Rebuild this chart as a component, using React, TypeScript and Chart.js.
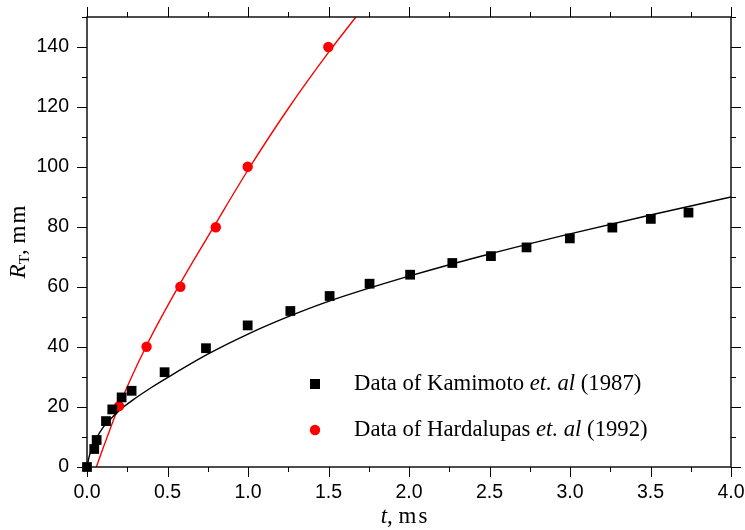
import React, { useEffect, useRef } from "react";
import { Chart, registerables } from "chart.js";

Chart.register(...registerables);

// Kamimoto et al. (1987) measured tip penetration
const kamimotoT = [0, 0.045, 0.06, 0.118, 0.157, 0.215, 0.277, 0.482, 0.739, 0.998, 1.263, 1.507, 1.755, 2.007, 2.269, 2.509, 2.73, 2.999, 3.263, 3.502, 3.736];
const kamimotoR = [0, 6, 9, 15.3, 19.2, 23.2, 25.4, 31.6, 39.6, 47.2, 52, 57, 61.1, 64.1, 68, 70.3, 73.2, 76.2, 79.8, 82.7, 84.8];

// Hardalupas et al. (1992) measured tip penetration
const hardalupasT = [0.199, 0.37, 0.58, 0.8, 0.998, 1.499];
const hardalupasR = [20.3, 40.1, 60.1, 79.9, 100.1, 140];

// Model curves
const blackCurveT = [0, 0.015, 0.03, 0.06, 0.1, 0.15, 0.2, 0.3, 0.4, 0.5, 0.75, 1.0, 1.25, 1.5, 2.0, 2.5, 3.0, 3.5, 4.0];
const blackCurveR = [0, 3.8, 6.2, 9.7, 13.2, 16.2, 18.8, 22.9, 26.5, 29.8, 37.6, 44.3, 50.1, 55.2, 63.6, 71.0, 77.7, 84.0, 90.0];

const redCurveT = [0.058, 0.1, 0.2, 0.37, 0.58, 0.8, 1.0, 1.25, 1.5, 1.67];
const redCurveR = [0, 6.3, 20.5, 40.5, 61.3, 81.2, 99, 119.5, 138.2, 150];

// Axes
const xTickValues = [0, 0.5, 1.0, 1.5, 2.0, 2.5, 3.0, 3.5, 4.0];
const xTickLabels = ["0.0", "0.5", "1.0", "1.5", "2.0", "2.5", "3.0", "3.5", "4.0"];
const yTickValues = [0, 20, 40, 60, 80, 100, 120, 140];
const yTickLabels = ["0", "20", "40", "60", "80", "100", "120", "140"];
const xMinorTickValues = [0.25, 0.75, 1.25, 1.75, 2.25, 2.75, 3.25, 3.75];
const yMinorTickValues = [10, 30, 50, 70, 90, 110, 130, 150];
const xRange = [0, 4];
const yRange = [0, 150];

const legendLabels = [
  ["Data of Kamimoto ", "et. al", " (1987)"],
  ["Data of Hardalupas ", "et. al", " (1992)"],
];

const SERIF = "'Liberation Serif', 'Times New Roman', serif";
const SANS = "'Liberation Sans', Arial, sans-serif";

type Run = { text: string; font: string; dy?: number; spacing?: number };

function runWidth(ctx: CanvasRenderingContext2D, r: Run) {
  ctx.font = r.font;
  (ctx as any).letterSpacing = (r.spacing || 0) + "px";
  return ctx.measureText(r.text).width;
}

function drawRuns(ctx: CanvasRenderingContext2D, runs: Run[], x: number, y: number, align: "left" | "center") {
  let total = 0;
  for (const r of runs) total += runWidth(ctx, r);
  let cx = align === "center" ? x - total / 2 : x;
  ctx.textAlign = "left";
  ctx.textBaseline = "alphabetic";
  for (const r of runs) {
    const w = runWidth(ctx, r);
    ctx.fillText(r.text, cx, y + (r.dy || 0));
    cx += w;
  }
  (ctx as any).letterSpacing = "0px";
}

const framePlugin = {
  id: "frame",
  afterDraw(chart: any) {
    const { ctx, chartArea: a, scales } = chart;
    const xs = scales.x;
    const ys = scales.y;
    ctx.save();
    ctx.strokeStyle = "#000";
    ctx.fillStyle = "#000";
    ctx.lineWidth = 1;
    const seg = (x1: number, y1: number, x2: number, y2: number) => {
      ctx.beginPath();
      ctx.moveTo(x1, y1);
      ctx.lineTo(x2, y2);
      ctx.stroke();
    };
    const xTicks = (vals: number[], len: number) => {
      for (const v of vals) {
        const px = Math.round(xs.getPixelForValue(v)) + 0.5;
        seg(px, a.bottom, px, a.bottom + len);
        seg(px, a.top, px, a.top - len);
      }
    };
    const yTicks = (vals: number[], len: number) => {
      for (const v of vals) {
        const py = Math.round(ys.getPixelForValue(v)) + 0.5;
        seg(a.left, py, a.left - len, py);
        seg(a.right, py, a.right + len, py);
      }
    };
    xTicks(xTickValues, 10);
    xTicks(xMinorTickValues, 5);
    yTicks(yTickValues, 10);
    yTicks(yMinorTickValues, 5);

    ctx.lineWidth = 1.4;
    ctx.strokeRect(a.left, a.top, a.right - a.left, a.bottom - a.top);

    // tick labels
    ctx.font = `19.5px ${SANS}`;
    ctx.textBaseline = "alphabetic";
    ctx.textAlign = "center";
    xTickValues.forEach((v, i) => {
      ctx.fillText(xTickLabels[i], xs.getPixelForValue(v), a.bottom + 31);
    });
    ctx.textAlign = "right";
    yTickValues.forEach((v, i) => {
      ctx.fillText(yTickLabels[i], a.left - 18, ys.getPixelForValue(v) + 4.5);
    });

    // x axis title
    const cxTitle = (a.left + a.right) / 2 - 4;
    drawRuns(
      ctx,
      [
        { text: "t", font: `italic 23px ${SERIF}` },
        { text: ", ", font: `23px ${SERIF}` },
        { text: "ms", font: `23px ${SERIF}`, spacing: 2 },
      ],
      cxTitle,
      a.bottom + 55.5,
      "center"
    );

    // y axis title (rotated)
    ctx.save();
    ctx.translate(a.left - 62, (a.top + a.bottom) / 2 - 1);
    ctx.rotate(-Math.PI / 2);
    drawRuns(
      ctx,
      [
        { text: "R", font: `italic 23px ${SERIF}` },
        { text: "T", font: `15.5px ${SERIF}`, dy: 4 },
        { text: ", ", font: `23px ${SERIF}` },
        { text: "mm", font: `23px ${SERIF}`, spacing: 2 },
      ],
      0,
      0,
      "center"
    );
    ctx.restore();

    // legend
    const lx = a.left + 228;
    const tx = a.left + 267;
    const rows = [a.top + 367, a.top + 413];
    ctx.fillStyle = "#000";
    ctx.fillRect(lx - 5, rows[0] - 5, 10, 10);
    ctx.fillStyle = "#ff0000";
    ctx.beginPath();
    ctx.arc(lx, rows[1], 5.2, 0, Math.PI * 2);
    ctx.fill();
    ctx.fillStyle = "#000";
    legendLabels.forEach((parts, i) => {
      drawRuns(
        ctx,
        [
          { text: parts[0], font: `22.7px ${SERIF}` },
          { text: parts[1], font: `italic 22.7px ${SERIF}` },
          { text: parts[2], font: `22.7px ${SERIF}` },
        ],
        tx,
        rows[i] + 5.5,
        "left"
      );
    });
    ctx.restore();
  },
};

export default function App() {
  const ref = useRef<HTMLCanvasElement | null>(null);
  useEffect(() => {
    document.body.style.margin = "0";
    const canvas = ref.current;
    if (!canvas) return;
    const toXY = (xs: number[], ys: number[]) => xs.map((x, i) => ({ x, y: ys[i] }));
    const chart = new Chart(canvas, {
      type: "scatter",
      data: {
        datasets: [
          {
            label: "Kamimoto et. al (1987)",
            data: toXY(kamimotoT, kamimotoR),
            pointStyle: "rect",
            pointRadius: 6.9,
            pointHoverRadius: 6.9,
            backgroundColor: "#000",
            borderWidth: 0,
            showLine: false,
            clip: false,
            order: 0,
          } as any,
          {
            label: "Hardalupas et. al (1992)",
            data: toXY(hardalupasT, hardalupasR),
            pointStyle: "circle",
            pointRadius: 5.2,
            pointHoverRadius: 5.2,
            backgroundColor: "#ff0000",
            borderWidth: 0,
            showLine: false,
            clip: false,
            order: 0,
          } as any,
          {
            label: "model black",
            data: toXY(blackCurveT, blackCurveR),
            showLine: true,
            pointRadius: 0,
            borderColor: "#000",
            borderWidth: 1.4,
            cubicInterpolationMode: "monotone",
            fill: false,
            order: 1,
          } as any,
          {
            label: "model red",
            data: toXY(redCurveT, redCurveR),
            showLine: true,
            pointRadius: 0,
            borderColor: "#ff0000",
            borderWidth: 1.4,
            cubicInterpolationMode: "monotone",
            fill: false,
            order: 1,
          } as any,
        ],
      },
      options: {
        animation: false,
        responsive: false,
        devicePixelRatio: 1,
        layout: { padding: { top: 17, right: 14, left: 0, bottom: 0 } },
        plugins: { legend: { display: false }, tooltip: { enabled: false } },
        events: [],
        scales: {
          x: {
            type: "linear",
            min: xRange[0],
            max: xRange[1],
            grid: { display: false },
            border: { display: false },
            ticks: { display: false },
            afterFit: (s: any) => {
              s.height = 63;
              s.paddingLeft = 0;
              s.paddingRight = 0;
              s.paddingTop = 0;
              s.paddingBottom = 0;
            },
          },
          y: {
            type: "linear",
            min: yRange[0],
            max: yRange[1],
            grid: { display: false },
            border: { display: false },
            ticks: { display: false },
            afterFit: (s: any) => {
              s.width = 87;
              s.paddingLeft = 0;
              s.paddingRight = 0;
              s.paddingTop = 0;
              s.paddingBottom = 0;
            },
          },
        },
      } as any,
      plugins: [framePlugin],
    });
    return () => chart.destroy();
  }, []);
  return (
    <div style={{ width: 745, height: 530, background: "#fff" }}>
      <canvas ref={ref} width={745} height={530} />
    </div>
  );
}
